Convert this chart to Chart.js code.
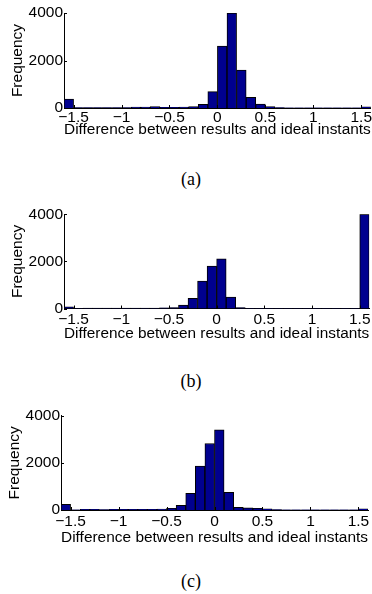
<!DOCTYPE html>
<html>
<head>
<meta charset="utf-8">
<script src="https://cdn.jsdelivr.net/npm/chart.js@4"></script>
<style>
  body { margin: 0; background: #fff; width: 372px; height: 594px; position: relative; overflow: hidden; }
  .plot { position: absolute; left: 0; width: 372px; }
  .cap { position: absolute; left: 171px; width: 40px; text-align: center; line-height: 18px;
         font-family: "Liberation Serif", "Times New Roman", serif; font-size: 18px; color: #000; }
</style>
</head>
<body>
<div class="plot" style="top:0;height:140px"><canvas id="histA"></canvas></div>
<div class="cap" style="top:170px">(a)</div>
<div class="plot" style="top:200px;height:144px"><canvas id="histB"></canvas></div>
<div class="cap" style="top:372px">(b)</div>
<div class="plot" style="top:400px;height:148px"><canvas id="histC"></canvas></div>
<div class="cap" style="top:572px">(c)</div>
<script>
// bin centres (width 0.1, from -1.6 to 1.6)
const binCenters = [
  -1.55, -1.45, -1.35, -1.25, -1.15, -1.05, -0.95, -0.85, -0.75, -0.65, -0.55,
  -0.45, -0.35, -0.25, -0.15, -0.05, 0.05, 0.15, 0.25, 0.35, 0.45, 0.55,
  0.65, 0.75, 0.85, 0.95, 1.05, 1.15, 1.25, 1.35, 1.45, 1.55
]
const xTickValues = [-1.5, -1, -0.5, 0, 0.5, 1, 1.5]
const yTickValues = [0, 2000, 4000]

// counts
const countsA = [
  380, 20, 20, 20, 20, 20, 20, 40, 40, 60, 30,
  30, 40, 60, 150, 690, 2610, 4000, 1600, 450, 170, 60,
  20, 10, 10, 10, 10, 10, 10, 10, 10, 50
]
const countsB = [
  70, 5, 20, 20, 20, 20, 20, 20, 20, 20, 30,
  40, 140, 430, 1160, 1800, 2110, 480, 40, 10, 10, 10,
  10, 10, 10, 10, 10, 10, 10, 10, 10, 4000
]
const countsC = [
  240, 10, 30, 30, 15, 30, 30, 30, 30, 30, 40,
  70, 200, 710, 1860, 2820, 3400, 750, 110, 90, 70, 50,
  20, 10, 10, 10, 10, 10, 10, 10, 10, 50
]

Chart.defaults.font.family = "'Liberation Sans', Arial, sans-serif"
Chart.defaults.font.size = 15.5
Chart.defaults.color = "#000"

// matlab style ticks pointing into the axes
const inwardTicks = {
  id: "inwardTicks",
  afterDatasetsDraw(chart) {
    const { ctx, chartArea, scales } = chart
    ctx.save()
    ctx.strokeStyle = "#000"
    ctx.lineWidth = 1
    ctx.beginPath()
    scales.x.ticks.forEach((t) => {
      const px = Math.round(scales.x.getPixelForValue(t.value)) + 0.5
      ctx.moveTo(px, chartArea.bottom)
      ctx.lineTo(px, chartArea.bottom - 3)
    })
    scales.y.ticks.forEach((t) => {
      const py = Math.round(scales.y.getPixelForValue(t.value)) + 0.5
      ctx.moveTo(chartArea.left, py)
      ctx.lineTo(chartArea.left + 3, py)
    })
    ctx.stroke()
    ctx.restore()
  },
}

function fmtTick(v) {
  return v < 0 ? "\u2212" + Math.abs(v) : String(v)
}

function makeHist(id, counts, box) {
  const ctx = document.getElementById(id).getContext("2d")
  return new Chart(ctx, {
    type: "bar",
    data: {
      datasets: [
        {
          data: binCenters.map((x, i) => ({ x: x, y: counts[i] })),
          backgroundColor: "#00008F",
          borderColor: "#000",
          borderWidth: 1,
          barPercentage: 1,
          categoryPercentage: 1,
        },
      ],
    },
    options: {
      responsive: true,
      maintainAspectRatio: false,
      animation: false,
      layout: { padding: { top: box.areaTop, right: box.rightPad, left: 0, bottom: 0 } },
      plugins: { legend: { display: false }, tooltip: { enabled: false } },
      scales: {
        x: {
          type: "linear",
          offset: false,
          min: -1.6,
          max: 1.6,
          grid: { display: false, drawTicks: false, tickLength: 0 },
          border: { display: true, color: "#000", width: 1 },
          afterBuildTicks: (scale) => {
            scale.ticks = xTickValues.map((v) => ({ value: v }))
          },
          afterFit: (scale) => {
            scale.height = box.xH
          },
          ticks: { padding: box.tickPad, maxRotation: 0, autoSkip: false, callback: (v) => fmtTick(v) },
          title: {
            display: true,
            text: "Difference between results and ideal instants",
            padding: { top: 0, bottom: 1 },
          },
        },
        y: {
          min: 0,
          max: 4000,
          grid: { display: false, drawTicks: false, tickLength: 0 },
          border: { display: true, color: "#000", width: 1 },
          afterBuildTicks: (scale) => {
            scale.ticks = yTickValues.map((v) => ({ value: v }))
          },
          afterFit: (scale) => {
            scale.width = box.leftW
          },
          ticks: { padding: 1, callback: (v) => String(v) },
          title: { display: true, text: "Frequency", padding: { top: box.yTitlePad, bottom: 0 } },
        },
      },
    },
    plugins: [inwardTicks],
  })
}

makeHist("histA", countsA, { areaTop: 13, leftW: 64, xH: 32, rightPad: 0, tickPad: 0, yTitlePad: 8.5 })
makeHist("histB", countsB, { areaTop: 14.3, leftW: 64, xH: 35.5, rightPad: 0, tickPad: 1.5, yTitlePad: 8.5 })
makeHist("histC", countsC, { areaTop: 15.7, leftW: 61, xH: 38, rightPad: 4, tickPad: 2, yTitlePad: 5 })
</script>
</body>
</html>
